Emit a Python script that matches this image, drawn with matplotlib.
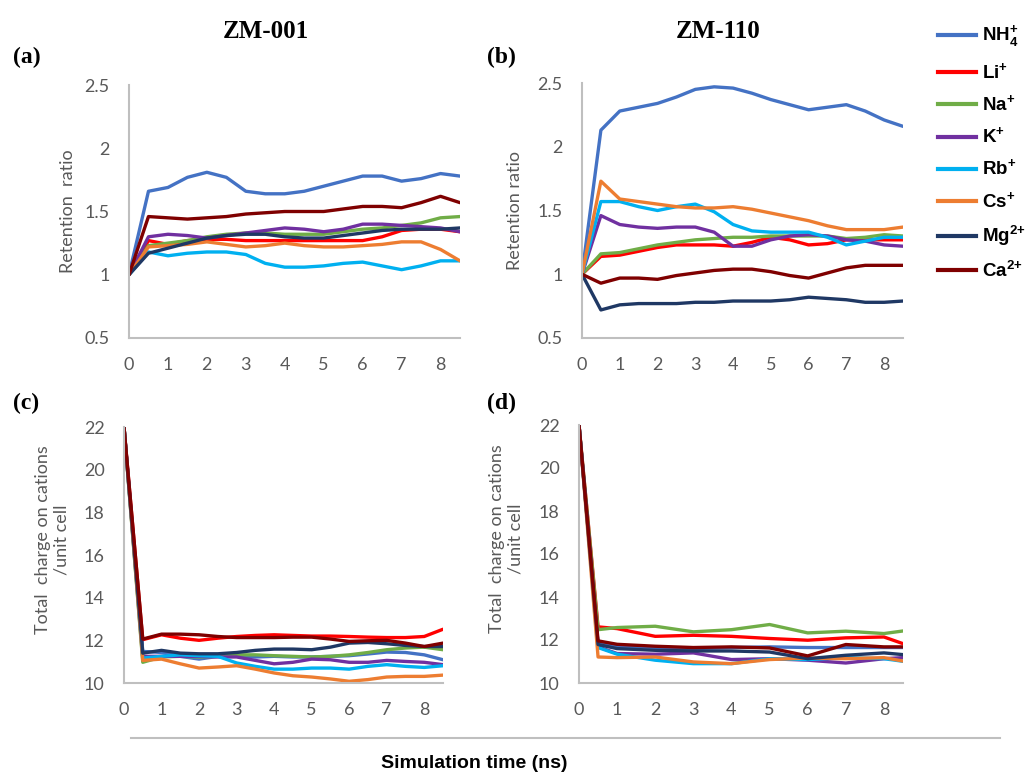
import matplotlib
matplotlib.use("Agg")
import matplotlib.pyplot as plt
from matplotlib.lines import Line2D

plt.rcParams['font.family'] = ['Lato', 'DejaVu Sans']
plt.rcParams['mathtext.fontset'] = 'custom'
plt.rcParams['mathtext.bf'] = 'Liberation Sans:bold'
plt.rcParams['mathtext.rm'] = 'Liberation Sans:bold'

# ---- data ----
ions = ['NH4', 'Li', 'Na', 'K', 'Rb', 'Cs', 'Mg', 'Ca']
ion_labels = [r'NH$_\mathbf{4}^\mathbf{+}$', r'Li$^\mathbf{+}$', r'Na$^\mathbf{+}$', r'K$^\mathbf{+}$',
              r'Rb$^\mathbf{+}$', r'Cs$^\mathbf{+}$', r'Mg$^{\mathbf{2}{\mathbf{+}}}$', r'Ca$^{\mathbf{2}{\mathbf{+}}}$']
colors = ['#4472C4', '#FF0000', '#70AD47', '#7030A0', '#00B0F0', '#ED7D31', '#1F3864', '#7F0000']

t_half = [0, 0.5, 1, 1.5, 2, 2.5, 3, 3.5, 4, 4.5, 5, 5.5, 6, 6.5, 7, 7.5, 8, 8.5]
t_d = [0, 0.5, 1, 2, 3, 4, 5, 6, 7, 8, 8.5]

# (a) ZM-001 retention ratio
ret_001 = {
    'NH4': [1, 1.66, 1.69, 1.77, 1.81, 1.77, 1.66, 1.64, 1.64, 1.66, 1.70, 1.74, 1.78, 1.78, 1.74, 1.76, 1.80, 1.78],
    'Li':  [1, 1.27, 1.24, 1.27, 1.28, 1.28, 1.27, 1.27, 1.27, 1.27, 1.27, 1.27, 1.27, 1.30, 1.35, 1.36, 1.36, 1.34],
    'Na':  [1, 1.23, 1.25, 1.27, 1.30, 1.32, 1.33, 1.33, 1.32, 1.32, 1.32, 1.34, 1.36, 1.37, 1.39, 1.41, 1.45, 1.46],
    'K':   [1, 1.30, 1.32, 1.31, 1.29, 1.31, 1.33, 1.35, 1.37, 1.36, 1.34, 1.36, 1.40, 1.40, 1.39, 1.38, 1.37, 1.34],
    'Rb':  [1, 1.18, 1.15, 1.17, 1.18, 1.18, 1.16, 1.09, 1.06, 1.06, 1.07, 1.09, 1.10, 1.07, 1.04, 1.07, 1.11, 1.11],
    'Cs':  [1, 1.22, 1.23, 1.24, 1.26, 1.24, 1.22, 1.23, 1.25, 1.23, 1.22, 1.22, 1.23, 1.24, 1.26, 1.26, 1.20, 1.11],
    'Mg':  [1, 1.17, 1.21, 1.25, 1.29, 1.31, 1.32, 1.32, 1.30, 1.29, 1.29, 1.31, 1.33, 1.35, 1.36, 1.36, 1.36, 1.37],
    'Ca':  [1, 1.46, 1.45, 1.44, 1.45, 1.46, 1.48, 1.49, 1.50, 1.50, 1.50, 1.52, 1.54, 1.54, 1.53, 1.57, 1.62, 1.57],
}

# (b) ZM-110 retention ratio
ret_110 = {
    'NH4': [1, 2.13, 2.28, 2.31, 2.34, 2.39, 2.45, 2.47, 2.46, 2.42, 2.37, 2.33, 2.29, 2.31, 2.33, 2.28, 2.21, 2.16],
    'Li':  [1, 1.14, 1.15, 1.18, 1.21, 1.23, 1.23, 1.23, 1.22, 1.25, 1.29, 1.27, 1.23, 1.24, 1.27, 1.27, 1.27, 1.27],
    'Na':  [1, 1.16, 1.17, 1.20, 1.23, 1.25, 1.27, 1.28, 1.29, 1.29, 1.30, 1.30, 1.30, 1.30, 1.28, 1.29, 1.31, 1.30],
    'K':   [1, 1.46, 1.39, 1.37, 1.36, 1.37, 1.37, 1.33, 1.22, 1.22, 1.27, 1.30, 1.31, 1.30, 1.27, 1.26, 1.23, 1.22],
    'Rb':  [1, 1.57, 1.57, 1.53, 1.50, 1.53, 1.55, 1.49, 1.39, 1.34, 1.33, 1.33, 1.33, 1.29, 1.23, 1.26, 1.29, 1.29],
    'Cs':  [1, 1.73, 1.59, 1.57, 1.55, 1.53, 1.52, 1.52, 1.53, 1.51, 1.48, 1.45, 1.42, 1.38, 1.35, 1.35, 1.35, 1.37],
    'Mg':  [1, 0.72, 0.76, 0.77, 0.77, 0.77, 0.78, 0.78, 0.79, 0.79, 0.79, 0.80, 0.82, 0.81, 0.80, 0.78, 0.78, 0.79],
    'Ca':  [1, 0.93, 0.97, 0.97, 0.96, 0.99, 1.01, 1.03, 1.04, 1.04, 1.02, 0.99, 0.97, 1.01, 1.05, 1.07, 1.07, 1.07],
}

# (c) ZM-001 total charge on cations per unit cell
chg_001 = {
    'NH4': [22, 11.48, 11.43, 11.25, 11.12, 11.25, 11.25, 11.22, 11.25, 11.22, 11.22, 11.25, 11.28, 11.36, 11.45, 11.43, 11.32, 11.09],
    'Li':  [22, 12.03, 12.26, 12.10, 12.00, 12.10, 12.18, 12.23, 12.26, 12.23, 12.20, 12.20, 12.18, 12.15, 12.13, 12.13, 12.18, 12.52],
    'Na':  [22, 10.97, 11.22, 11.25, 11.22, 11.25, 11.32, 11.32, 11.28, 11.25, 11.22, 11.25, 11.32, 11.43, 11.56, 11.64, 11.68, 11.56],
    'K':   [22, 11.25, 11.25, 11.25, 11.25, 11.22, 11.22, 11.06, 10.90, 10.97, 11.12, 11.09, 10.97, 10.97, 11.06, 11.01, 10.97, 10.86],
    'Rb':  [22, 11.17, 11.25, 11.32, 11.28, 11.25, 10.94, 10.78, 10.65, 10.65, 10.70, 10.70, 10.65, 10.78, 10.86, 10.78, 10.73, 10.81],
    'Cs':  [22, 11.06, 11.12, 10.90, 10.70, 10.75, 10.81, 10.65, 10.47, 10.34, 10.28, 10.19, 10.08, 10.16, 10.28, 10.31, 10.31, 10.37],
    'Mg':  [22, 11.40, 11.53, 11.40, 11.37, 11.37, 11.43, 11.53, 11.59, 11.59, 11.56, 11.68, 11.87, 11.90, 11.84, 11.76, 11.71, 11.71],
    'Ca':  [22, 12.06, 12.29, 12.29, 12.26, 12.18, 12.13, 12.13, 12.13, 12.15, 12.15, 12.06, 11.95, 11.98, 12.00, 11.87, 11.71, 11.87],
}

# (d) ZM-110 total charge on cations per unit cell
chg_110 = {
    'NH4': [22, 11.83, 11.71, 11.65, 11.60, 11.65, 11.68, 11.65, 11.65, 11.65, 11.65],
    'Li':  [22, 12.61, 12.53, 12.17, 12.22, 12.17, 12.07, 11.99, 12.10, 12.14, 11.83],
    'Na':  [22, 12.48, 12.58, 12.64, 12.38, 12.48, 12.72, 12.33, 12.41, 12.30, 12.42],
    'K':   [22, 11.68, 11.37, 11.34, 11.40, 11.09, 11.13, 11.06, 10.93, 11.13, 11.18],
    'Rb':  [22, 11.65, 11.34, 11.06, 10.90, 10.90, 11.13, 11.09, 11.18, 11.13, 11.01],
    'Cs':  [22, 11.21, 11.18, 11.21, 10.98, 10.90, 11.09, 11.16, 11.13, 11.18, 11.02],
    'Mg':  [22, 11.79, 11.60, 11.52, 11.49, 11.49, 11.44, 11.13, 11.29, 11.40, 11.32],
    'Ca':  [22, 11.96, 11.80, 11.71, 11.65, 11.68, 11.63, 11.26, 11.79, 11.68, 11.68],
}

x_ticks = [0, 1, 2, 3, 4, 5, 6, 7, 8]
ret_ticks = [0.5, 1, 1.5, 2, 2.5]
ret_ticklabels = ['0.5', '1', '1.5', '2', '2.5']
chg_ticks = [10, 12, 14, 16, 18, 20, 22]

W, H = 1036, 775
fig = plt.figure(figsize=(W / 100, H / 100), dpi=100)


def px_axes(x0, x1, ytop, ybot):
    return fig.add_axes([x0 / W, 1 - ybot / H, (x1 - x0) / W, (ybot - ytop) / H])


ax_a = px_axes(129, 460, 85, 338)
ax_b = px_axes(582, 903, 83, 338)
ax_c = px_axes(124, 443, 427, 683)
ax_d = px_axes(579, 903, 425, 683)

grey = '#595959'
panels = [
    (ax_a, t_half, ret_001, ret_ticks, ret_ticklabels, (0.5, 2.5), 'Retention  ratio', (-0.16, 0.5)),
    (ax_b, t_half, ret_110, ret_ticks, ret_ticklabels, (0.5, 2.5), 'Retention ratio', (-0.185, 0.5)),
    (ax_c, t_half, chg_001, chg_ticks, [str(v) for v in chg_ticks], (10, 22),
     'Total  charge on cations\n/unit cell', (-0.17, 0.56)),
    (ax_d, t_d, chg_110, chg_ticks, [str(v) for v in chg_ticks], (10, 22),
     'Total  charge on cations\n/unit cell', (-0.17, 0.56)),
]

for ax, t, data, yt, ytl, ylim, ylab, lab_xy in panels:
    for ion, c in zip(ions, colors):
        ax.plot(t, data[ion], color=c, lw=2.4, solid_joinstyle='round', solid_capstyle='round')
    ax.set_xlim(0, 8.5)
    ax.set_ylim(*ylim)
    ax.set_xticks(x_ticks)
    ax.set_xticklabels([str(v) for v in x_ticks])
    ax.set_yticks(yt)
    ax.set_yticklabels(ytl)
    ax.tick_params(axis='both', length=0, labelsize=13, labelcolor=grey)
    ax.tick_params(axis='y', pad=14)
    ax.tick_params(axis='x', pad=14)
    for s in ['top', 'right']:
        ax.spines[s].set_visible(False)
    for s in ['left', 'bottom']:
        ax.spines[s].set_color('#BFBFBF')
        ax.spines[s].set_linewidth(1.5)
    ax.set_ylabel(ylab, fontsize=13, color=grey)
    ax.yaxis.set_label_coords(*lab_xy)

serif = 'Liberation Serif'
fig.text(266 / W, 1 - 32 / H, 'ZM-001', fontsize=18, fontweight='bold', family=serif, ha='center', va='center')
fig.text(718 / W, 1 - 32 / H, 'ZM-110', fontsize=18, fontweight='bold', family=serif, ha='center', va='center')
for lab, x, y in [('(a)', 27, 57), ('(b)', 501, 57), ('(c)', 26, 403), ('(d)', 501, 403)]:
    fig.text(x / W, 1 - y / H, lab, fontsize=17, fontweight='bold', family=serif, ha='center', va='center')

# bottom shared axis title
fig.add_artist(Line2D([131 / W, 1000 / W], [1 - 738 / H, 1 - 738 / H], color='#BFBFBF', lw=1.5))
fig.text(474 / W, 1 - 763 / H, 'Simulation time (ns)', fontsize=14, fontweight='bold',
         family='Liberation Sans', ha='center', va='center')

handles = [Line2D([], [], color=c, lw=3) for c in colors]
fig.legend(handles, ion_labels, loc='upper left', bbox_to_anchor=(938 / W, 1 - 24 / H),
           frameon=False, prop={'family': 'Liberation Sans', 'weight': 'bold', 'size': 13.5},
           handlelength=2.0, handletextpad=0.35, labelspacing=0.62, borderpad=0, borderaxespad=0)

fig.savefig('out.png', dpi=100)
